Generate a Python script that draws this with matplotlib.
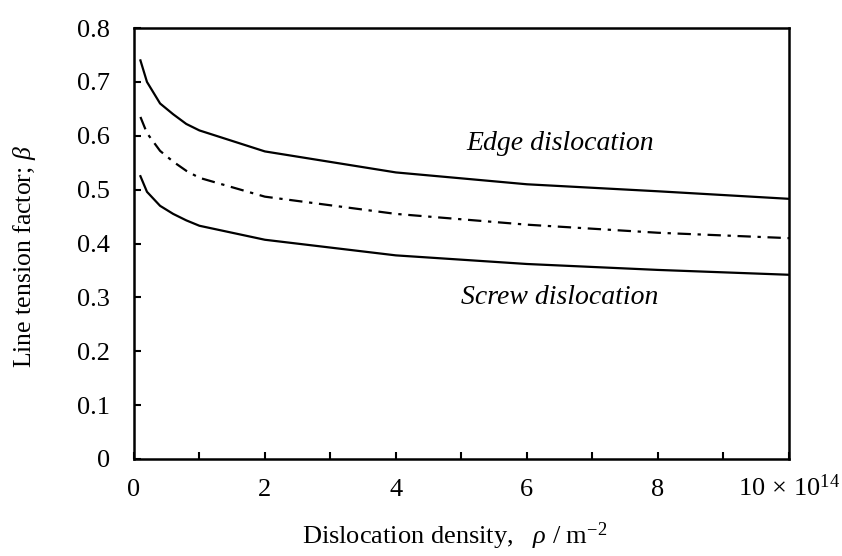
import matplotlib
matplotlib.use("Agg")
import matplotlib.pyplot as plt

plt.rcParams['font.family'] = ['Liberation Serif', 'DejaVu Serif']
plt.rcParams['mathtext.fontset'] = 'custom'
plt.rcParams['mathtext.it'] = 'Liberation Serif:italic'
plt.rcParams['mathtext.rm'] = 'Liberation Serif'

# dislocation density (x 10^14 m^-2)
density = [0.1, 0.2, 0.4, 0.6, 0.8, 1, 2, 4, 6, 8, 10]
# line tension factor beta
beta_edge = [0.74, 0.70, 0.66, 0.64, 0.622, 0.61, 0.571, 0.532, 0.51, 0.497, 0.483]
beta_mixed = [0.635, 0.605, 0.572, 0.552, 0.535, 0.522, 0.487, 0.455, 0.435, 0.42, 0.41]
beta_screw = [0.525, 0.496, 0.47, 0.455, 0.443, 0.433, 0.407, 0.378, 0.362, 0.351, 0.342]

x_ticks = [0, 1, 2, 3, 4, 5, 6, 7, 8, 9, 10]
x_labels = ['0', '', '2', '', '4', '', '6', '', '8', '', r'10$\,\times\,$10$^{14}$']
y_ticks = [0, 0.1, 0.2, 0.3, 0.4, 0.5, 0.6, 0.7, 0.8]

fig = plt.figure(figsize=(8.42, 5.56), dpi=100)
ax = fig.add_axes([0.159, 0.1745, 0.778, 0.775])

ax.plot(density, beta_edge, color='black', lw=1.6)
ax.plot(density, beta_mixed, color='black', lw=1.6, linestyle=(0, (6, 3, 1.5, 3)))
ax.plot(density, beta_screw, color='black', lw=1.6)

ax.set_xlim(0, 10)
ax.set_ylim(0, 0.8)
ax.set_xticks(x_ticks)
ax.set_xticklabels(x_labels)
ax.set_yticks(y_ticks)
ax.set_yticklabels(['0' if v == 0 else f'{v:.1f}' for v in y_ticks])
ax.tick_params(direction='in', length=5, width=1.5, labelsize=19, color='black')
ax.tick_params(axis='x', pad=26.5)
ax.tick_params(axis='y', pad=17)
# keep all x tick labels on a common baseline (the last one has a superscript)
for lbl in ax.get_xticklabels():
    lbl.set_va('baseline')
for s in ax.spines.values():
    s.set_linewidth(1.8)

ax.text(6.5, 0.586, 'Edge dislocation', style='italic', fontsize=20, ha='center', va='center')
ax.text(6.5, 0.30, 'Screw dislocation', style='italic', fontsize=20, ha='center', va='center')

fig.text(25 / 842, 1 - 257 / 556, r'Line tension factor; $\beta$', fontsize=18.5,
         rotation=90, ha='center', va='center')
fig.text(455 / 842, 1 - 536 / 556, r'Dislocation density,   $\rho$ / m$^{-2}$', fontsize=19,
         ha='center', va='center')

fig.savefig('out.png', dpi=100)
